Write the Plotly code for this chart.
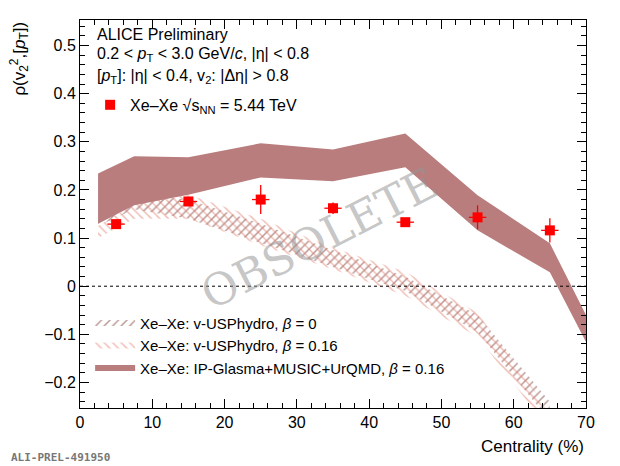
import plotly.graph_objects as go

cent = [5, 15, 25, 35, 45, 55, 65]
rho = [0.129, 0.176, 0.180, 0.162, 0.133, 0.143, 0.116]
rho_err = [0.008, 0.008, 0.030, 0.012, 0.006, 0.025, 0.025]

ipg_x = [2.5, 7.5, 15, 25, 35, 45, 55, 65, 70]
ipg_lo = [0.130, 0.168, 0.190, 0.226, 0.218, 0.247, 0.116, 0.029, -0.116]
ipg_hi = [0.234, 0.270, 0.268, 0.297, 0.284, 0.317, 0.189, 0.089, -0.060]

hyd_x = [2.5, 7.5, 15, 25, 35, 45, 55, 65]
b0_lo = [0.125, 0.160, 0.140, 0.090, 0.040, -0.010, -0.095, -0.280]
b0_hi = [0.160, 0.190, 0.180, 0.130, 0.075, 0.020, -0.060, -0.240]
b16_lo = [0.100, 0.140, 0.140, 0.085, 0.035, -0.020, -0.105, -0.300]
b16_hi = [0.125, 0.170, 0.190, 0.140, 0.080, 0.030, -0.055, -0.260]

font = "Liberation Sans, Arial, sans-serif"
fig = go.Figure()

def band(x, lo, hi, name, color, pattern=None):
    kw = dict(fillcolor=color)
    if pattern:
        kw = dict(fillcolor="rgba(255,255,255,0)",
                  fillpattern=dict(shape=pattern, fgcolor=color, bgcolor="rgba(255,255,255,0)",
                                   size=6, solidity=0.25))
    fig.add_trace(go.Scatter(x=x + x[::-1], y=hi + lo[::-1], fill="toself", mode="none",
                             name=name, legend="legend", **kw))

band(hyd_x, b0_lo, b0_hi, "Xe–Xe: v-USPhydro, <i>β</i> = 0", "#7a3a35", "/")
band(hyd_x, b16_lo, b16_hi, "Xe–Xe: v-USPhydro, <i>β</i> = 0.16", "#e07a68", "\\")
band(ipg_x, ipg_lo, ipg_hi, "Xe–Xe: IP-Glasma+MUSIC+UrQMD, <i>β</i> = 0.16", "rgb(185,125,125)")

fig.add_trace(go.Scatter(x=[0, 70], y=[0, 0], mode="lines", showlegend=False,
                         line=dict(color="black", width=1, dash="dot")))

fig.add_trace(go.Scatter(x=cent, y=rho, mode="markers", name="Xe–Xe √s<sub>NN</sub> = 5.44 TeV",
                         legend="legend2",
                         marker=dict(symbol="square", size=10, color="red"),
                         error_y=dict(array=rho_err, color="red", thickness=1.3, width=0),
                         error_x=dict(array=[1.2]*7, color="red", thickness=1.3, width=0)))

axis = dict(showgrid=False, zeroline=False, mirror="ticks", ticks="inside", showline=True,
            linecolor="black", linewidth=1, tickcolor="black", ticklen=9,
            tickfont=dict(family=font, size=16, color="black"), minor=dict(ticks="inside", ticklen=5, tickcolor="black"))
fig.update_layout(
    width=620, height=466, plot_bgcolor="white", paper_bgcolor="white",
    font=dict(family=font, color="black"),
    margin=dict(l=72, r=42, t=12, b=66, autoexpand=False),
    xaxis=dict(range=[0, 70], dtick=10, minor_dtick=2, **axis),
    yaxis=dict(range=[-0.253, 0.553], dtick=0.1, minor_dtick=0.02, **axis),
    legend=dict(x=0.02, y=0.06, xanchor="left", yanchor="bottom", bgcolor="rgba(0,0,0,0)",
                font=dict(family=font, size=15, color="black"), tracegroupgap=0, itemwidth=40),
    legend2=dict(x=0.02, y=0.825, xanchor="left", yanchor="top", bgcolor="rgba(0,0,0,0)",
                 font=dict(family=font, size=16, color="black"), itemwidth=30),
    annotations=[
        dict(xref="paper", yref="paper", x=0.03, y=0.99, xanchor="left", yanchor="top", showarrow=False,
             text="ALICE Preliminary", font=dict(family=font, size=16)),
        dict(xref="paper", yref="paper", x=0.03, y=0.94, xanchor="left", yanchor="top", showarrow=False,
             text="0.2 < <i>p</i><sub>T</sub> < 3.0 GeV/<i>c</i>, |η| < 0.8", font=dict(family=font, size=16)),
        dict(xref="paper", yref="paper", x=0.03, y=0.885, xanchor="left", yanchor="top", showarrow=False,
             text="[<i>p</i><sub>T</sub>]: |η| < 0.4, v<sub>2</sub>: |Δη| > 0.8", font=dict(family=font, size=16)),
        dict(x=33, y=0.10, showarrow=False, textangle=-27, text="OBSOLETE",
             font=dict(family="DejaVu Serif", size=44, color="rgba(150,150,150,0.55)")),
        dict(xref="paper", yref="paper", x=1.0, y=-0.07, xanchor="right", yanchor="top", showarrow=False,
             text="Centrality (%)", font=dict(family=font, size=17)),
        dict(xref="paper", yref="paper", x=-0.15, y=1.0, xanchor="left", yanchor="top", showarrow=False,
             textangle=-90, text="ρ(v<sub>2</sub><sup>2</sup>,[<i>p</i><sub>T</sub>])", font=dict(family=font, size=17)),
        dict(xref="paper", yref="paper", x=-0.14, y=-0.105, xanchor="left", yanchor="top", showarrow=False,
             text="<b>ALI-PREL-491950</b>", font=dict(family="DejaVu Sans Mono", size=11, color="#777")),
    ],
)
fig.write_html("out.html")
